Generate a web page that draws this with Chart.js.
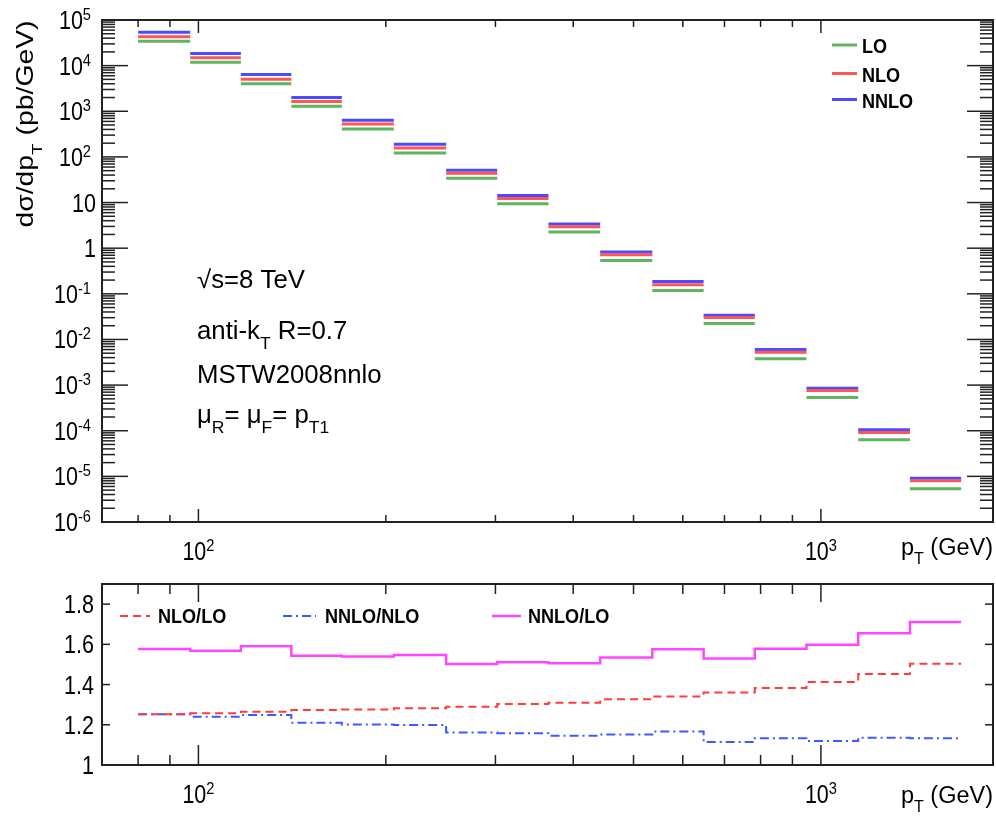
<!DOCTYPE html>
<html>
<head>
<meta charset="utf-8">
<title>Inclusive jet cross section, LO / NLO / NNLO</title>
<script src="https://cdn.jsdelivr.net/npm/chart.js@4.4.1/dist/chart.umd.min.js"></script>
<style>
  body { margin: 0; background: #fff; }
  #page { position: relative; width: 996px; height: 822px; }
  #topBox { position: absolute; left: 0; top: 0; width: 996px; height: 575px; }
  #ratioBox { position: absolute; left: 0; top: 575px; width: 996px; height: 247px; }
</style>
</head>
<body>
<div id="page">
  <div id="topBox"><canvas id="xsecChart"></canvas></div>
  <div id="ratioBox"><canvas id="ratioChart"></canvas></div>
</div>
<script>
// pT bin edges in GeV (16 bins)
var binEdges = [80, 97, 117, 141, 170, 206, 250, 302, 365, 442, 536, 648, 783, 948, 1148, 1390, 1680];

// d(sigma)/dpT in pb/GeV, one value per bin (upper panel)
var xsecLO   = [34100, 11800, 4000, 1294, 411, 122, 34.0, 9.46, 2.25, 0.538, 0.118, 0.0223, 0.0038, 5.37e-4, 6.33e-5, 5.32e-6];
var xsecNLO  = [42700, 14830, 5060, 1647, 524, 156.4, 43.9, 12.33, 2.95, 0.714, 0.158, 0.0303, 0.00526, 7.59e-4, 9.19e-5, 8.00e-6];
var xsecNNLO = [53780, 18500, 6360, 1997, 633, 188.7, 51.1, 14.29, 3.39, 0.825, 0.186, 0.0341, 0.0060, 8.58e-4, 1.048e-4, 9.10e-6];

// ratios, one value per bin (lower panel)
var ratioNLOtoLO   = [1.252, 1.257, 1.265, 1.273, 1.276, 1.282, 1.290, 1.303, 1.310, 1.327, 1.340, 1.360, 1.383, 1.413, 1.452, 1.504];
var ratioNNLOtoNLO = [1.252, 1.240, 1.248, 1.210, 1.202, 1.199, 1.161, 1.158, 1.146, 1.152, 1.167, 1.114, 1.133, 1.119, 1.136, 1.133];
var ratioNNLOtoLO  = [1.577, 1.568, 1.590, 1.543, 1.540, 1.547, 1.502, 1.511, 1.506, 1.534, 1.575, 1.529, 1.578, 1.598, 1.655, 1.711];

// axis ranges and tick labels
var ptMin = 70, ptMax = 1890;
var ptMajorTicks = [100, 1000];
var ptMajorExps = ["2", "3"];
var xsecMinExp = -6, xsecMaxExp = 5;
var ratioMin = 1.0, ratioMax = 1.9;
var ratioTicks = [1, 1.2, 1.4, 1.6, 1.8];
var ratioTickLabels = ["1", "1.2", "1.4", "1.6", "1.8"];

var FONT = '"Liberation Sans", Arial, Helvetica, sans-serif';
var AXIS_COLOR = "#222";
var SQUEEZE = 0.86; // tick labels in the reference are a bit narrower than plain Helvetica

// one flat segment per bin, broken between bins
function binSegments(values) {
    var pts = [];
    for (var i = 0; i < values.length; i++) {
        pts.push({ x: binEdges[i], y: values[i] });
        pts.push({ x: binEdges[i + 1], y: values[i] });
        pts.push({ x: binEdges[i + 1], y: null });
    }
    return pts;
}

// histogram outline, used with stepped: "before" (flat first, then the riser)
function stepPoints(values) {
    var pts = [];
    for (var i = 0; i < binEdges.length; i++) {
        pts.push({ x: binEdges[i], y: values[Math.min(i, values.length - 1)] });
    }
    return pts;
}

function minorLogTicks(min, max) {
    var out = [];
    for (var e = Math.floor(Math.log10(min)); e <= Math.ceil(Math.log10(max)); e++) {
        for (var k = 2; k <= 9; k++) {
            var v = k * Math.pow(10, e);
            if (v > min && v < max) out.push(v);
        }
    }
    return out;
}

function tick(ctx, x1, y1, x2, y2) {
    ctx.beginPath();
    ctx.moveTo(x1, y1);
    ctx.lineTo(x2, y2);
    ctx.stroke();
}

// text made of pieces: [text] normal, [text, "sup"], [text, "sub"]
function drawRich(ctx, parts, x, y, size, opt) {
    opt = opt || {};
    var bold = opt.bold ? "bold " : "";
    var small = Math.round(size * 0.68);
    var w = 0;
    parts.forEach(function (p) {
        ctx.font = bold + (p[1] ? small : size) + "px " + FONT;
        w += ctx.measureText(p[0]).width;
    });
    var cx = opt.align === "right" ? -w : opt.align === "center" ? -w / 2 : 0;
    ctx.save();
    ctx.translate(x, y);
    if (opt.rotate) ctx.rotate(opt.rotate);
    ctx.scale(opt.sx || SQUEEZE, opt.sy || 1);
    ctx.fillStyle = opt.color || "#000";
    ctx.textBaseline = "alphabetic";
    ctx.textAlign = "left";
    parts.forEach(function (p) {
        ctx.font = bold + (p[1] ? small : size) + "px " + FONT;
        var dy = p[1] === "sup" ? -0.36 * size : p[1] === "sub" ? 0.4 * size : 0;
        ctx.fillText(p[0], cx, dy);
        cx += ctx.measureText(p[0]).width;
    });
    ctx.restore();
}

function legendLine(ctx, ds, x1, x2, y) {
    ctx.save();
    ctx.strokeStyle = ds.borderColor;
    ctx.lineWidth = ds.borderWidth;
    ctx.setLineDash(ds.borderDash || []);
    tick(ctx, x1, y, x2, y);
    ctx.restore();
}

// x ticks (log) on bottom and top edges, pointing inwards
function drawPtTicks(ctx, a, xs, majorLen, minorLen, majorLenTop, minorLenTop) {
    ptMajorTicks.forEach(function (v) {
        var px = xs.getPixelForValue(v);
        tick(ctx, px, a.bottom, px, a.bottom - majorLen);
        tick(ctx, px, a.top, px, a.top + majorLenTop);
    });
    minorLogTicks(ptMin, ptMax).forEach(function (v) {
        var px = xs.getPixelForValue(v);
        tick(ctx, px, a.bottom, px, a.bottom - minorLen);
        tick(ctx, px, a.top, px, a.top + minorLenTop);
    });
}

var xsecDecor = {
    id: "xsecDecor",
    afterDraw: function (chart) {
        var ctx = chart.ctx, a = chart.chartArea;
        var xs = chart.scales.x, ys = chart.scales.y;
        ctx.save();
        ctx.strokeStyle = AXIS_COLOR;
        ctx.lineWidth = 1.5;

        // y ticks on both sides
        for (var e = xsecMinExp; e <= xsecMaxExp; e++) {
            var py = ys.getPixelForValue(Math.pow(10, e));
            tick(ctx, a.left, py, a.left + 26, py);
            tick(ctx, a.right, py, a.right - 26, py);
        }
        minorLogTicks(Math.pow(10, xsecMinExp), Math.pow(10, xsecMaxExp)).forEach(function (v) {
            var py = ys.getPixelForValue(v);
            tick(ctx, a.left, py, a.left + 13, py);
            tick(ctx, a.right, py, a.right - 13, py);
        });
        drawPtTicks(ctx, a, xs, 13, 7, 13, 7);

        ctx.lineWidth = 2;
        ctx.strokeRect(a.left, a.top, a.right - a.left, a.bottom - a.top);

        // y tick labels
        for (var e2 = xsecMinExp; e2 <= xsecMaxExp; e2++) {
            var ty = ys.getPixelForValue(Math.pow(10, e2));
            if (e2 === 0 || e2 === 1) {
                drawRich(ctx, [[e2 === 0 ? "1" : "10"]], a.left - 6, ty + 0.36 * 25, 25, { align: "right" });
            } else {
                drawRich(ctx, [["10"], [String(e2), "sup"]], a.left - 11, ty + 0.36 * 25, 25, { align: "right" });
            }
        }
        // x tick labels
        ptMajorTicks.forEach(function (v, i) {
            drawRich(ctx, [["10"], [ptMajorExps[i], "sup"]], xs.getPixelForValue(v), a.bottom + 38, 25, { align: "center" });
        });
        drawRich(ctx, [["p"], ["T", "sub"], [" (GeV)"]], a.right, a.bottom + 33, 23.5, { align: "right", sx: 1 });

        // y axis title
        drawRich(ctx, [["d\u03c3/dp"], ["T", "sub"], [" (pb/GeV)"]], 33, 124, 27,
            { align: "center", rotate: -Math.PI / 2, sx: 1.05, sy: SQUEEZE });

        // run settings
        drawRich(ctx, [["\u221as=8 TeV"]], 197, 288, 25, { sx: 1.03 });
        drawRich(ctx, [["anti-k"], ["T", "sub"], [" R=0.7"]], 197, 339, 25, { sx: 1.03 });
        drawRich(ctx, [["MSTW2008nnlo"]], 197, 383, 25, { sx: 1.03 });
        drawRich(ctx, [["\u03bc"], ["R", "sub"], ["= \u03bc"], ["F", "sub"], ["= p"], ["T1", "sub"]], 197, 423, 25, { sx: 1.03 });

        // legend
        var ds = chart.data.datasets;
        var rows = [53, 81.5, 107.5];
        ds.forEach(function (d, i) {
            legendLine(ctx, d, 832, 857, rows[i] - 8);
            drawRich(ctx, [[d.label]], 862, rows[i], 21, { bold: true });
        });
        ctx.restore();
    }
};

var ratioDecor = {
    id: "ratioDecor",
    afterDraw: function (chart) {
        var ctx = chart.ctx, a = chart.chartArea;
        var xs = chart.scales.x, ys = chart.scales.y;
        ctx.save();
        ctx.strokeStyle = AXIS_COLOR;
        ctx.lineWidth = 1.5;
        ratioTicks.forEach(function (v) {
            var py = ys.getPixelForValue(v);
            tick(ctx, a.left, py, a.left + 8, py);
            tick(ctx, a.right, py, a.right - 8, py);
        });
        drawPtTicks(ctx, a, xs, 20, 10, 18, 10);

        ctx.lineWidth = 2;
        ctx.strokeRect(a.left, a.top, a.right - a.left, a.bottom - a.top);

        ratioTicks.forEach(function (v, i) {
            drawRich(ctx, [[ratioTickLabels[i]]], a.left - 8, ys.getPixelForValue(v) + 0.36 * 25, 25, { align: "right" });
        });
        ptMajorTicks.forEach(function (v, i) {
            drawRich(ctx, [["10"], [ptMajorExps[i], "sup"]], xs.getPixelForValue(v), a.bottom + 38, 25, { align: "center" });
        });
        drawRich(ctx, [["p"], ["T", "sub"], [" (GeV)"]], a.right, a.bottom + 38, 23.5, { align: "right", sx: 1 });

        // legend across the top of the panel
        var ds = chart.data.datasets;
        var spots = [[120, 150, 158], [283, 316, 325], [492, 521, 528]];
        ds.forEach(function (d, i) {
            legendLine(ctx, d, spots[i][0], spots[i][1], a.top + 32);
            drawRich(ctx, [[d.label]], spots[i][2], a.top + 39, 21, { bold: true });
        });
        ctx.restore();
    }
};

new Chart(document.getElementById("xsecChart"), {
    type: "line",
    data: {
        datasets: [
            { label: "LO", data: binSegments(xsecLO), borderColor: "rgb(95,180,95)", borderWidth: 3 },
            { label: "NLO", data: binSegments(xsecNLO), borderColor: "rgb(255,85,85)", borderWidth: 3 },
            { label: "NNLO", data: binSegments(xsecNNLO), borderColor: "rgb(75,75,255)", borderWidth: 3 }
        ]
    },
    options: {
        responsive: true,
        maintainAspectRatio: false,
        animation: false,
        spanGaps: false,
        elements: { point: { radius: 0 }, line: { tension: 0 } },
        layout: { padding: { left: 102, right: 3, top: 20, bottom: 53 } },
        plugins: { legend: { display: false }, tooltip: { enabled: false } },
        scales: {
            x: { type: "logarithmic", min: ptMin, max: ptMax, display: false },
            y: { type: "logarithmic", min: Math.pow(10, xsecMinExp), max: Math.pow(10, xsecMaxExp), display: false }
        }
    },
    plugins: [xsecDecor]
});

new Chart(document.getElementById("ratioChart"), {
    type: "line",
    data: {
        datasets: [
            { label: "NLO/LO", data: stepPoints(ratioNLOtoLO), stepped: "before",
              borderColor: "rgb(255,60,60)", borderWidth: 2, borderDash: [8, 5] },
            { label: "NNLO/NLO", data: stepPoints(ratioNNLOtoNLO), stepped: "before",
              borderColor: "rgb(60,90,255)", borderWidth: 2, borderDash: [9, 4, 2, 4] },
            { label: "NNLO/LO", data: stepPoints(ratioNNLOtoLO), stepped: "before",
              borderColor: "rgb(255,70,255)", borderWidth: 2.5 }
        ]
    },
    options: {
        responsive: true,
        maintainAspectRatio: false,
        animation: false,
        elements: { point: { radius: 0 } },
        layout: { padding: { left: 102, right: 3, top: 9, bottom: 57 } },
        plugins: { legend: { display: false }, tooltip: { enabled: false } },
        scales: {
            x: { type: "logarithmic", min: ptMin, max: ptMax, display: false },
            y: { type: "linear", min: ratioMin, max: ratioMax, display: false }
        }
    },
    plugins: [ratioDecor]
});
</script>
</body>
</html>
